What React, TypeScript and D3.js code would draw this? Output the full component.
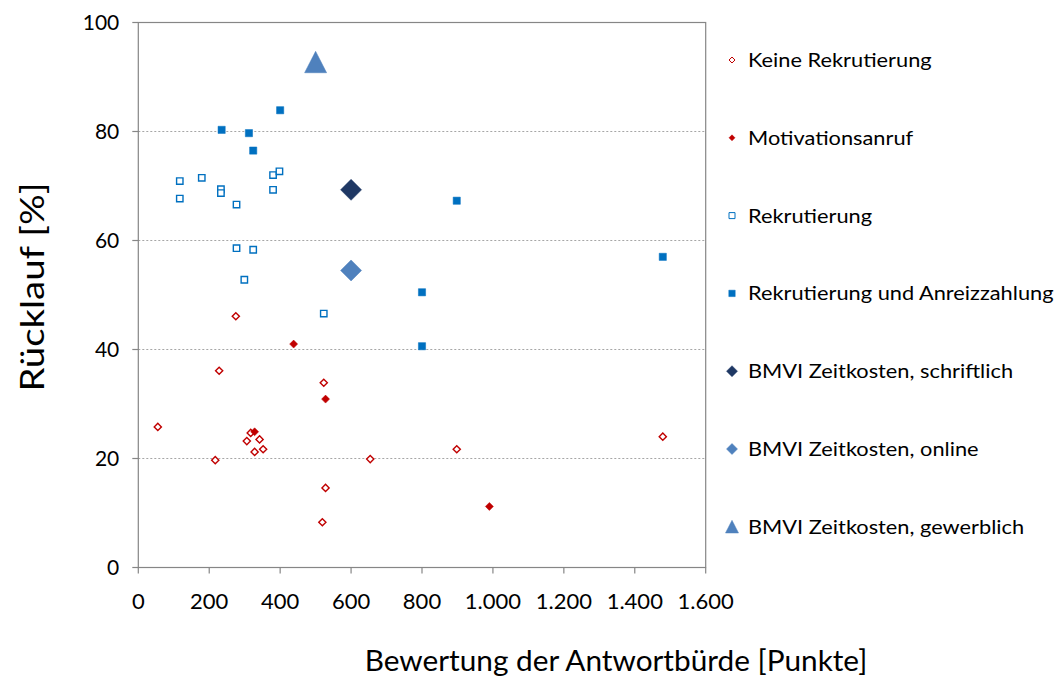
import React from "react";
import * as d3 from "d3";

const keineX = [275, 228, 55, 317, 306, 342, 328, 352, 217, 523, 528, 519, 654, 898, 1479];
const keineY = [46.1, 36.1, 25.8, 24.7, 23.2, 23.5, 21.2, 21.7, 19.7, 33.9, 14.6, 8.3, 19.9, 21.7, 24.0];
const motivX = [438, 528, 328, 990];
const motivY = [41.0, 30.9, 24.9, 11.2];
const rekX = [117, 117, 179, 233, 233, 277, 380, 398, 380, 277, 324, 299, 523];
const rekY = [70.9, 67.7, 71.5, 69.4, 68.7, 66.6, 72.0, 72.7, 69.3, 58.6, 58.3, 52.8, 46.6];
const anreizX = [235, 312, 324, 400, 898, 1479, 800, 800];
const anreizY = [80.3, 79.7, 76.5, 83.9, 67.3, 57.0, 50.5, 40.6];
const schriftlichX = [600];
const schriftlichY = [69.3];
const onlineX = [600];
const onlineY = [54.5];
const gewerblichX = [500];
const gewerblichY = [92.7];

const xTicks = [0, 200, 400, 600, 800, 1000, 1200, 1400, 1600];
const yTicks = [0, 20, 40, 60, 80, 100];
const legendLabels = [
  "Keine Rekrutierung",
  "Motivationsanruf",
  "Rekrutierung",
  "Rekrutierung und Anreizzahlung",
  "BMVI Zeitkosten, schriftlich",
  "BMVI Zeitkosten, online",
  "BMVI Zeitkosten, gewerblich",
];

const FONT = "Lato, 'Open Sans', sans-serif";
const RED = "#C00000";
const BLUE = "#0070C0";
const NAVY = "#1F3864";
const MID = "#4F81BD";

type Mk = { kind: string; fill: string; stroke: string; size: number; sw: number };
const markers: Mk[] = [
  { kind: "diamond", fill: "#fff", stroke: RED, size: 3.6, sw: 1.4 },
  { kind: "diamond", fill: RED, stroke: RED, size: 4, sw: 0.5 },
  { kind: "square", fill: "#fff", stroke: BLUE, size: 3.2, sw: 1.4 },
  { kind: "square", fill: BLUE, stroke: BLUE, size: 3.6, sw: 0.5 },
  { kind: "diamond", fill: NAVY, stroke: NAVY, size: 10.5, sw: 0.5 },
  { kind: "diamond", fill: MID, stroke: MID, size: 10.5, sw: 0.5 },
  { kind: "triangle", fill: MID, stroke: MID, size: 11, sw: 0.5 },
];
const legendMarkers: Mk[] = [
  { kind: "diamond", fill: "#fff", stroke: RED, size: 3, sw: 1 },
  { kind: "diamond", fill: RED, stroke: RED, size: 3, sw: 0.5 },
  { kind: "square", fill: "#fff", stroke: BLUE, size: 3, sw: 1 },
  { kind: "square", fill: BLUE, stroke: BLUE, size: 3.2, sw: 0.5 },
  { kind: "diamond", fill: NAVY, stroke: NAVY, size: 5.5, sw: 0.5 },
  { kind: "diamond", fill: MID, stroke: MID, size: 5.5, sw: 0.5 },
  { kind: "triangle", fill: MID, stroke: MID, size: 6.5, sw: 0.5 },
];

function shapePath(kind: string, s: number): string {
  if (kind === "diamond") return `M0,${-s}L${s},0L0,${s}L${-s},0Z`;
  if (kind === "square") return `M${-s},${-s}H${s}V${s}H${-s}Z`;
  return `M0,${-s}L${s},${s * 0.95}L${-s},${s * 0.95}Z`;
}

const seriesX = [keineX, motivX, rekX, anreizX, schriftlichX, onlineX, gewerblichX];
const seriesY = [keineY, motivY, rekY, anreizY, schriftlichY, onlineY, gewerblichY];

export default function App() {
  const W = 1057, H = 678;
  const left = 138.3, right = 705.7, top = 22.5, bottom = 567.5;
  const x = d3.scaleLinear().domain([0, 1600]).range([left, right]);
  const y = d3.scaleLinear().domain([0, 100]).range([bottom, top]);
  const fmt = (v: number) => d3.format(",")(v).replace(/,/g, ".");
  const axisColor = "#868686";

  return (
    <svg width={W} height={H} style={{ position: "absolute", left: 0, top: 0, background: "#fff" }}>
      <rect x={0} y={0} width={W} height={H} fill="#fff" />
      {yTicks.filter((t) => t > 0 && t < 100).map((t) => (
        <line key={"g" + t} x1={left} x2={right} y1={y(t)} y2={y(t)} stroke="#A6A6A6" strokeWidth={1} strokeDasharray="2,2" />
      ))}
      <rect x={left} y={top} width={right - left} height={bottom - top} fill="none" stroke={axisColor} strokeWidth={1.2} />
      {yTicks.map((t) => (
        <g key={"y" + t}>
          <line x1={left - 6} x2={left} y1={y(t)} y2={y(t)} stroke={axisColor} strokeWidth={1.2} />
          <text x={left - 19} y={y(t)} dy="0.35em" textAnchor="end" fontFamily={FONT} fontSize={21} fill="#000">{t}</text>
        </g>
      ))}
      {xTicks.map((t) => (
        <g key={"x" + t}>
          <line x1={x(t)} x2={x(t)} y1={bottom} y2={bottom + 6} stroke={axisColor} strokeWidth={1.2} />
          <text x={x(t)} y={601} dy="0.35em" textAnchor="middle" fontFamily={FONT} fontSize={22} fill="#000">{fmt(t)}</text>
        </g>
      ))}
      <text transform={`translate(44,287) rotate(-90) scale(1.2,1)`} textAnchor="middle" fontFamily={FONT} fontSize={32} fill="#000">Rücklauf [%]</text>
      <text transform={`translate(616,671) scale(1.064,1)`} textAnchor="middle" fontFamily={FONT} fontSize={28} fill="#000">Bewertung der Antwortbürde [Punkte]</text>
      {seriesX.map((xs, si) => (
        <g key={"s" + si}>
          {xs.map((xv, i) => (
            <path key={i} transform={`translate(${x(xv)},${y(seriesY[si][i])})`} d={shapePath(markers[si].kind, markers[si].size)} fill={markers[si].fill} stroke={markers[si].stroke} strokeWidth={markers[si].sw} />
          ))}
        </g>
      ))}
      {legendLabels.map((lab, i) => {
        const ly = 60 + i * 77.8;
        return (
          <g key={"l" + i}>
            <path transform={`translate(732,${ly})`} d={shapePath(legendMarkers[i].kind, legendMarkers[i].size)} fill={legendMarkers[i].fill} stroke={legendMarkers[i].stroke} strokeWidth={legendMarkers[i].sw} />
            <text transform={`translate(748,${ly}) scale(1.09,1)`} dy="0.35em" fontFamily={FONT} fontSize={20} fill="#000">{lab}</text>
          </g>
        );
      })}
    </svg>
  );
}
